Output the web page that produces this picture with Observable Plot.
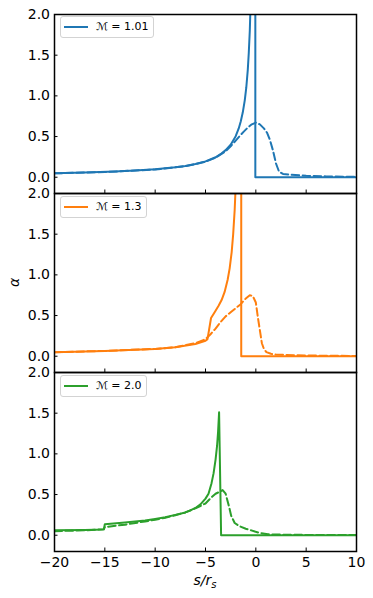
<!DOCTYPE html>
<html>
<head>
<meta charset="utf-8">
<script src="https://cdn.jsdelivr.net/npm/d3@7"></script>
<script src="https://cdn.jsdelivr.net/npm/@observablehq/plot@0.6"></script>
<style>
  html, body { margin: 0; padding: 0; background: #fff; }
  #chart { position: relative; width: 373px; height: 598px; font-family: "DejaVu Sans", sans-serif; }
  .legend { position: absolute; box-sizing: border-box; height: 22px; padding: 0 5px 0 35px;
            border: 1px solid #d3d3d3; border-radius: 3px; background: rgba(255,255,255,0.85);
            font: 11px "DejaVu Sans", sans-serif; line-height: 20px; white-space: nowrap; color: #000; }
  .legend .handle { position: absolute; left: 3px; top: 9px; width: 24px; height: 0; border-top: 2px solid; }
</style>
</head>
<body>
<div id="chart"></div>
<script>
// ---- data ----
const panels = ["1.01", "1.3", "2.0"];
const colors = ["#1f77b4", "#ff7f0e", "#2ca02c"];
const xTicks = [-20, -15, -10, -5, 0, 5, 10];
const yTicks = [0, 0.5, 1.0, 1.5, 2.0];

// M = 1.01
const m101_solid_x = [-20, -17, -14, -12, -10, -8, -7, -6, -5, -4, -3.5, -3, -2.5, -2, -1.7, -1.5, -1.3, -1.1, -0.95, -0.8, -0.7, -0.6, -0.5, -0.4, -0.3, -0.2, -0.05, -0.05, 10];
const m101_solid_y = [0.048, 0.057, 0.07, 0.082, 0.097, 0.122, 0.138, 0.162, 0.195, 0.245, 0.283, 0.333, 0.4, 0.505, 0.6, 0.685, 0.795, 0.945, 1.1, 1.32, 1.53, 1.8, 2.22, 2.85, 4.0, 6.6, 6.6, 0, 0];
const m101_dash_x = [-20, -15, -10, -7, -5, -4, -3, -2.5, -2, -1.5, -1.2, -0.8, -0.4, 0, 0.4, 0.8, 1.1, 1.4, 1.7, 2.0, 2.3, 2.7, 3.5, 5, 7, 10];
const m101_dash_y = [0.048, 0.064, 0.095, 0.135, 0.19, 0.24, 0.32, 0.38, 0.45, 0.52, 0.56, 0.61, 0.65, 0.67, 0.65, 0.6, 0.55, 0.46, 0.33, 0.17, 0.07, 0.04, 0.03, 0.018, 0.01, 0.005];

// M = 1.3
const m13_solid_x = [-20, -15, -12, -10, -8, -6, -5, -4.8, -4.45, -4.2, -4.0, -3.7, -3.4, -3.1, -2.8, -2.6, -2.4, -2.25, -2.1, -2.0, -1.9, -1.8, -1.7, -1.45, -1.45, 10];
const m13_solid_y = [0.05, 0.065, 0.08, 0.09, 0.11, 0.15, 0.19, 0.21, 0.47, 0.52, 0.56, 0.62, 0.69, 0.79, 0.94, 1.08, 1.28, 1.5, 1.8, 2.1, 2.55, 3.2, 4.5, 4.5, 0, 0];
const m13_dash_x = [-20, -15, -10, -8, -6, -5, -4.5, -4, -3.5, -3, -2.5, -2, -1.5, -1.0, -0.6, -0.3, 0, 0.2, 0.4, 0.6, 0.8, 1.05, 1.5, 2, 4, 7, 10];
const m13_dash_y = [0.05, 0.065, 0.09, 0.11, 0.16, 0.21, 0.27, 0.34, 0.42, 0.49, 0.54, 0.59, 0.64, 0.71, 0.75, 0.74, 0.66, 0.48, 0.32, 0.16, 0.09, 0.05, 0.03, 0.02, 0.012, 0.006, 0.003];

// M = 2.0
const m20_solid_x = [-20, -17, -15.1, -15, -13, -11, -10, -9, -8, -7, -6.5, -6, -5.5, -5, -4.7, -4.4, -4.2, -4.0, -3.85, -3.75, -3.65, -3.45, 10];
const m20_solid_y = [0.06, 0.065, 0.07, 0.135, 0.155, 0.18, 0.2, 0.22, 0.25, 0.28, 0.305, 0.335, 0.38, 0.45, 0.51, 0.64, 0.76, 0.93, 1.1, 1.27, 1.51, 0, 0];
const m20_dash_x = [-20, -17, -15.1, -15, -13, -11, -10, -9, -8, -7, -6, -5, -4.45, -4, -3.5, -3.3, -3.0, -2.7, -2.45, -2.1, -1.6, -1.0, -0.45, 0.3, 1.2, 2, 5, 10];
const m20_dash_y = [0.05, 0.06, 0.075, 0.1, 0.13, 0.17, 0.19, 0.215, 0.245, 0.28, 0.33, 0.39, 0.46, 0.51, 0.54, 0.555, 0.51, 0.37, 0.24, 0.15, 0.11, 0.08, 0.06, 0.03, 0.012, 0.008, 0.004, 0.002];

// ---- build table ----
const rows = [];
function add(panel, kind, xs, ys) {
  const color = colors[panels.indexOf(panel)];
  xs.forEach((x, i) => rows.push({panel, kind, color, series: panel + kind, x, y: ys[i]}));
}
add("1.01", "solid", m101_solid_x, m101_solid_y);
add("1.01", "dash", m101_dash_x, m101_dash_y);
add("1.3", "solid", m13_solid_x, m13_solid_y);
add("1.3", "dash", m13_dash_x, m13_dash_y);
add("2.0", "solid", m20_solid_x, m20_solid_y);
add("2.0", "dash", m20_dash_x, m20_dash_y);

const W = 373, H = 598, mT = 13, mB = 46, mL = 54, mR = 17;

const plot = Plot.plot({
  width: W, height: H,
  marginTop: mT, marginBottom: mB, marginLeft: mL, marginRight: mR,
  x: {domain: [-20, 10]},
  y: {domain: [-0.2, 2.0]},
  fy: {domain: panels, padding: 0, axis: null},
  color: {type: "identity"},
  style: {fontFamily: "DejaVu Sans", fontSize: "14px", color: "#000", background: "#fff"},
  marks: [
    Plot.line(rows.filter(d => d.kind === "solid"), {x: "x", y: "y", fy: "panel", z: "series", stroke: "color", strokeWidth: 2, clip: true}),
    Plot.line(rows.filter(d => d.kind === "dash"), {x: "x", y: "y", fy: "panel", z: "series", stroke: "color", strokeWidth: 2, strokeDasharray: "7.5,3.5", clip: true}),
    Plot.frame({stroke: "#000", strokeWidth: 1.5}),
    Plot.axisY({ticks: yTicks, tickSize: -3.5, text: null, label: null, strokeWidth: 1}),
    Plot.axisY({ticks: yTicks, tickSize: 0, tickPadding: 4.5, tickFormat: d3.format(".1f"), label: null, fontSize: 14}),
    Plot.axisX({ticks: xTicks, tickSize: -3.5, text: null, label: null, facetAnchor: null, strokeWidth: 1}),
    Plot.axisX({ticks: xTicks, tickSize: 0, tickPadding: 6, tickFormat: d3.format("d"), label: null, fontSize: 14})
  ]
});

const chart = document.getElementById("chart");
chart.appendChild(plot);

// axis labels (matplotlib-style math text)
const svg = d3.select(plot);
const xl = svg.append("text")
  .attr("x", mL + (W - mL - mR) / 2).attr("y", 585)
  .attr("text-anchor", "middle")
  .attr("font-family", "DejaVu Sans").attr("font-size", 14).attr("font-style", "italic").attr("fill", "#000");
xl.append("tspan").text("s/r");
xl.append("tspan").attr("font-size", 10).attr("dy", 3).text("s");

svg.append("text")
  .attr("transform", `translate(18.5,${mT + (H - mT - mB) / 2}) rotate(-90)`)
  .attr("text-anchor", "middle")
  .attr("font-family", "DejaVu Sans").attr("font-size", 14).attr("font-style", "italic").attr("fill", "#000")
  .text("α");

// legends
const panelH = (H - mT - mB) / panels.length;
panels.forEach((p, i) => {
  const lg = document.createElement("div");
  lg.className = "legend";
  lg.style.left = (mL + 6) + "px";
  lg.style.top = (mT + i * panelH + 3) + "px";
  const h = document.createElement("span");
  h.className = "handle";
  h.style.borderTopColor = colors[i];
  lg.appendChild(h);
  lg.appendChild(document.createTextNode("ℳ = " + p));
  chart.appendChild(lg);
});
</script>
</body>
</html>
